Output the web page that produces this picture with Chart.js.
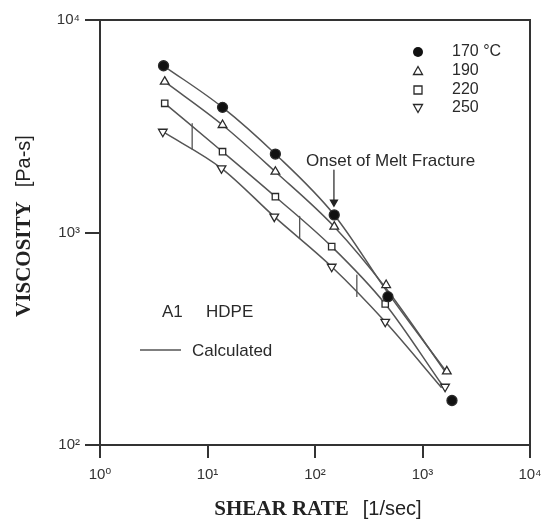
<!DOCTYPE html>
<html>
<head>
<meta charset="utf-8">
<script src="https://cdn.jsdelivr.net/npm/chart.js@4/dist/chart.umd.min.js"></script>
<style>
html,body{margin:0;padding:0;background:#fff;}
#wrap{width:543px;height:525px;}
</style>
</head>
<body>
<div id="wrap"><canvas id="c" width="543" height="525"></canvas></div>
<script>
// ---- data ----
const tickValues = [1, 10, 100, 1000, 10000];
const xTickLabels = ["10\u2070", "10\u00B9", "10\u00B2", "10\u00B3", "10\u2074"];
const yTickValues = [100, 1000, 10000];
const yTickLabels = ["10\u00B2", "10\u00B3", "10\u2074"];

const seriesNames = ["170 \u00B0C", "190", "220", "250"];

const rate170 = [3.9, 13.8, 42.8, 151, 477, 1880];
const visc170 = [6090, 3880, 2340, 1210, 499, 162];
const rate190 = [4.0, 13.8, 42.8, 151, 459, 1683];
const visc190 = [5125, 3206, 1932, 1065, 566, 222];
const rate220 = [4.0, 13.8, 42.8, 143, 450];
const visc220 = [4055, 2400, 1474, 858, 461];
const rate250 = [3.84, 13.5, 41.8, 143, 450, 1622];
const visc250 = [2980, 2005, 1187, 690, 380, 188];

// calculated curves
const calcRate170 = [3.9, 13.8, 42.8, 151, 477, 1680];
const calcVisc170 = [6090, 3880, 2340, 1210, 520, 220];
const calcRate190 = [4.0, 13.8, 42.8, 151, 459, 1683];
const calcVisc190 = [5125, 3206, 1932, 1065, 545, 216];
const calcRate220 = [4.0, 13.8, 42.8, 143, 450, 1520];
const calcVisc220 = [4055, 2400, 1474, 858, 461, 192];
const calcRate250 = [3.84, 13.5, 41.8, 143, 450, 1506];
const calcVisc250 = [2980, 2005, 1187, 690, 380, 186];

// short vertical marks between the 220 and 250 curves
const markRate = [7.2, 72, 245];
const markTop = [3250, 1190, 630];
const markBottom = [2470, 940, 500];

// onset of melt fracture arrow
const onsetRate = 150;
const onsetFrom = 1967;
const onsetTo = 1390;

// ---- build ----
function pts(xs, ys){ return xs.map((x,i)=>({x:x, y:ys[i]})); }
const markData = [];
markRate.forEach((x,i)=>{ markData.push({x:x,y:markTop[i]},{x:x,y:markBottom[i]},{x:x,y:null}); });

const INK = '#2a2a2a';
const LINE = '#555';

function calcSet(xs, ys){
  return {type:'line', data:pts(xs,ys), borderColor:LINE, borderWidth:1.5, pointRadius:0,
    cubicInterpolationMode:'monotone', fill:false, order:5};
}
function markerSet(label, xs, ys, style, rot, filled, r){
  return {type:'line', label:label, data:pts(xs,ys), showLine:false, pointStyle:style, pointRotation:rot||0,
    pointRadius:r, pointBorderColor:INK, pointBackgroundColor: filled? '#111':'#fff', pointBorderWidth:1.3, order:1};
}

const annotations = {
  id:'annot',
  afterDraw(chart){
    const ctx = chart.ctx, a = chart.chartArea;
    ctx.save();
    // frame top/right
    ctx.strokeStyle = '#333'; ctx.lineWidth = 2;
    ctx.beginPath();
    ctx.moveTo(a.left, a.top); ctx.lineTo(a.right, a.top); ctx.lineTo(a.right, a.bottom);
    ctx.stroke();
    // legend
    const lx = 418, tx = 452, rows = [52, 71, 90, 108];
    ctx.fillStyle = INK; ctx.strokeStyle = INK; ctx.lineWidth = 1.3;
    ctx.font = '16px "Liberation Sans", Arial, sans-serif';
    ctx.textBaseline = 'middle'; ctx.textAlign = 'left';
    rows.forEach((y,i)=>{
      ctx.beginPath();
      if(i===0){ ctx.arc(lx,y,5,0,Math.PI*2); ctx.fillStyle='#111'; ctx.fill(); }
      else if(i===1){ ctx.moveTo(lx,y-4.5); ctx.lineTo(lx+4.5,y+3.5); ctx.lineTo(lx-4.5,y+3.5); ctx.closePath(); ctx.stroke(); }
      else if(i===2){ ctx.rect(lx-4,y-4,8,8); ctx.stroke(); }
      else { ctx.moveTo(lx,y+4.5); ctx.lineTo(lx+4.5,y-3.5); ctx.lineTo(lx-4.5,y-3.5); ctx.closePath(); ctx.stroke(); }
      ctx.fillStyle = INK;
      ctx.fillText(seriesNames[i], tx, y);
    });
    // annotations
    ctx.font = '17px "Liberation Sans", Arial, sans-serif';
    ctx.fillText('Onset of Melt Fracture', 306, 161);
    ctx.fillText('A1', 162, 312);
    ctx.fillText('HDPE', 206, 312);
    ctx.fillText('Calculated', 192, 351);
    ctx.strokeStyle = LINE; ctx.lineWidth = 1.4;
    ctx.beginPath(); ctx.moveTo(140, 350); ctx.lineTo(181, 350); ctx.stroke();
    // axis titles
    ctx.fillStyle = '#222';
    ctx.textBaseline = 'alphabetic';
    const serif = 'bold 21px "Liberation Serif", "Times New Roman", serif';
    const sans = '20px "Liberation Sans", Arial, sans-serif';
    const gap = 14;
    // x title
    ctx.font = serif; const w1 = ctx.measureText('SHEAR RATE').width;
    ctx.font = sans; const w2 = ctx.measureText('[1/sec]').width;
    const sx = 318 - (w1 + gap + w2)/2;
    ctx.font = serif; ctx.fillText('SHEAR RATE', sx, 515);
    ctx.font = sans; ctx.fillText('[1/sec]', sx + w1 + gap, 515);
    // y title
    ctx.translate(30, 226); ctx.rotate(-Math.PI/2);
    ctx.font = serif; const v1 = ctx.measureText('VISCOSITY').width;
    ctx.font = sans; const v2 = ctx.measureText('[Pa-s]').width;
    const vt = v1 + gap + v2;
    ctx.font = serif; ctx.fillText('VISCOSITY', -vt/2, 0);
    ctx.font = sans; ctx.fillText('[Pa-s]', -vt/2 + v1 + gap, 0);
    ctx.restore();
  }
};

function fixTicks(vals){
  return function(scale){ scale.ticks = vals.map(v=>({value:v})); };
}

new Chart(document.getElementById('c'), {
  type:'line',
  data:{ datasets:[
    calcSet(calcRate170, calcVisc170),
    calcSet(calcRate190, calcVisc190),
    calcSet(calcRate220, calcVisc220),
    calcSet(calcRate250, calcVisc250),
    {type:'line', data:markData, borderColor:LINE, borderWidth:1.3, pointRadius:0, spanGaps:false, order:5},
    {type:'line', data:[{x:onsetRate,y:onsetFrom},{x:onsetRate,y:onsetTo}], borderColor:'#333', borderWidth:1.3,
      pointRadius:[0,4], pointStyle:'triangle', pointRotation:180, pointBackgroundColor:'#222', pointBorderColor:'#222', order:2},
    markerSet(seriesNames[0], rate170, visc170, 'circle', 0, true, 5),
    markerSet(seriesNames[1], rate190, visc190, 'triangle', 0, false, 5),
    markerSet(seriesNames[2], rate220, visc220, 'rect', 0, false, 4.5),
    markerSet(seriesNames[3], rate250, visc250, 'triangle', 180, false, 5)
  ]},
  options:{
    responsive:false, animation:false, devicePixelRatio:1,
    layout:{padding:{left:0, right:13, top:20, bottom:0}},
    plugins:{legend:{display:false}, tooltip:{enabled:false}},
    elements:{line:{borderJoinStyle:'round'}},
    scales:{
      x:{type:'logarithmic', position:'bottom', min:1, max:10000,
        afterBuildTicks: fixTicks(tickValues),
        afterFit(s){ s.height = 80; s.paddingLeft = 0; s.paddingRight = 0; },
        ticks:{autoSkip:false, maxRotation:0, padding:8, color:'#333',
          font:{size:15, family:'"Liberation Sans", "DejaVu Sans", sans-serif'},
          callback:(v)=>{ const i = tickValues.indexOf(v); return i>=0 ? xTickLabels[i] : ''; }},
        grid:{display:true, drawOnChartArea:false, drawTicks:true, tickLength:13, color:'#333', lineWidth:2},
        border:{display:true, color:'#333', width:2},
        title:{display:false}
      },
      y:{type:'logarithmic', position:'left', min:100, max:10000,
        afterBuildTicks: fixTicks(yTickValues),
        afterFit(s){ s.width = 100; s.paddingTop = 0; s.paddingBottom = 0; },
        ticks:{autoSkip:false, padding:5, color:'#333',
          font:{size:15, family:'"Liberation Sans", "DejaVu Sans", sans-serif'},
          callback:(v)=>{ const i = yTickValues.indexOf(v); return i>=0 ? yTickLabels[i] : ''; }},
        grid:{display:true, drawOnChartArea:false, drawTicks:true, tickLength:15, color:'#333', lineWidth:2},
        border:{display:true, color:'#333', width:2},
        title:{display:false}
      }
    }
  },
  plugins:[annotations]
});
</script>
</body>
</html>
